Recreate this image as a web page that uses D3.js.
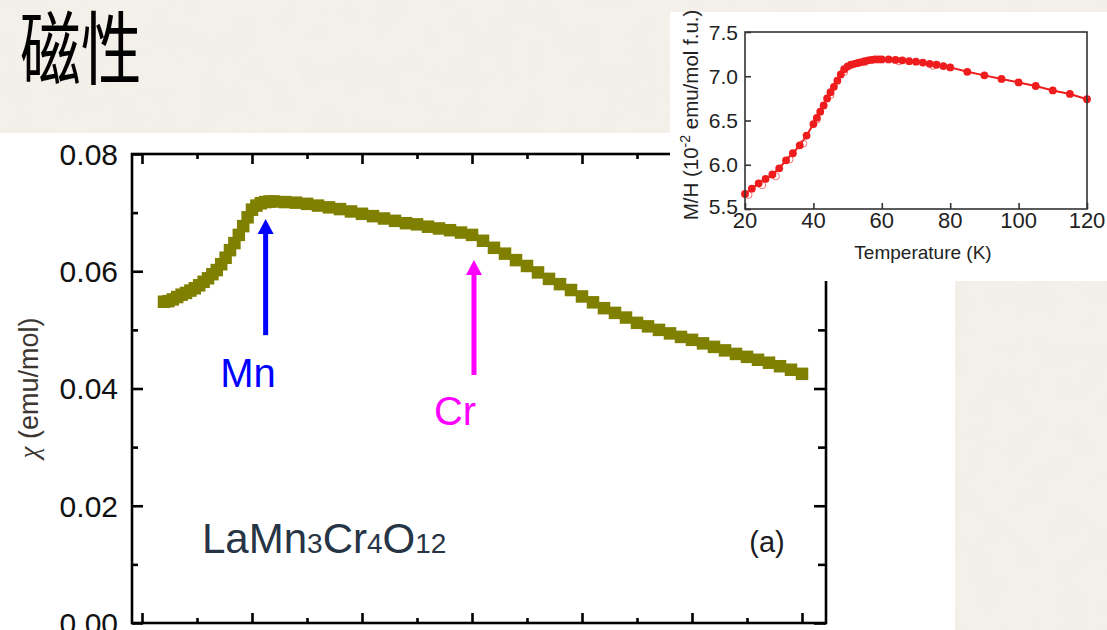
<!DOCTYPE html>
<html>
<head>
<meta charset="utf-8">
<script src="https://cdn.jsdelivr.net/npm/d3@7"></script>
<style>
  html, body { margin: 0; padding: 0; background: #f4f1ea; }
  svg { display: block; }
</style>
</head>
<body>
<svg id="chart" width="1107" height="630"></svg>
<script>
// ---- Main panel: susceptibility of LaMn3Cr4O12 vs temperature ----
const mainTemps = [10,12,14,16,18,20,22,24,26,28,30,32,34,36,38,40,42,44,46,48,50,52,54,56,58,60,
  65,70,75,80,85,90,95,100,105,110,115,120,125,130,135,140,145,150,155,160,165,170,175,180,
  185,190,195,200,205,210,215,220,225,230,235,240,245,250,255,260,265,270,275,280,285,290,295,300];
const mainChi = [0.0548,0.0549,0.0552,0.0556,0.0560,0.0563,0.0567,0.0571,0.0576,0.0582,0.0588,0.0595,
  0.0602,0.0612,0.0623,0.0636,0.0648,0.0662,0.0677,0.0692,0.0705,0.0712,0.0716,0.0718,0.0719,0.0719,
  0.0718,0.0717,0.0715,0.0712,0.0709,0.0706,0.0702,0.0698,0.0694,0.0690,0.0686,0.0682,0.0680,0.0676,
  0.0673,0.0670,0.0666,0.0662,0.0652,0.0640,0.0630,0.0619,0.0609,0.0598,0.0587,0.0578,0.0568,0.0557,
  0.0547,0.0537,0.0529,0.0521,0.0512,0.0506,0.0500,0.0494,0.0488,0.0483,0.0477,0.0471,0.0465,0.0459,
  0.0454,0.0449,0.0444,0.0438,0.0432,0.0425];
const mainXMajor = [0,50,100,150,200,250,300];
const mainXMinor = [25,75,125,175,225,275];
const mainYMajor = [0.00,0.02,0.04,0.06,0.08];
const mainYMinor = [0.01,0.03,0.05,0.07];

// transition markers: temperature, arrow tip / tail (chi), label
const arrowNames  = ["Mn", "Cr"];
const arrowTemps  = [56.2, 150.9];
const arrowTips   = [0.0689, 0.0619];
const arrowTails  = [0.0491, 0.0423];
const arrowColors = ["#0000ff", "#ff00ff"];

// ---- Inset: M/H vs temperature ----
const insetTemps = [20,22,24,26,28,30,32,34,36,38,40,41,42,43,44,45,46,47,48,49,50,51,52,53,54,55,56,57,58,59,60,
  62,64,66,68,70,72,74,76,78,80,85,90,95,100,105,110,115,120];
const insetMH = [5.67,5.73,5.79,5.84,5.89,5.96,6.05,6.13,6.22,6.33,6.46,6.53,6.60,6.67,6.75,6.82,6.88,6.95,7.02,7.08,
  7.11,7.13,7.14,7.15,7.16,7.17,7.18,7.185,7.19,7.19,7.19,7.19,7.185,7.18,7.17,7.165,7.155,7.14,7.13,7.115,7.10,
  7.05,7.01,6.97,6.93,6.89,6.84,6.80,6.74];
const insetOpenTemps = [21,25,29,33,37,41,45,49,55,65,75];
const insetOpenMH = [5.66,5.77,5.87,6.06,6.24,6.51,6.79,7.05,7.16,7.17,7.12];
const insetXTicks = [20,40,60,80,100,120];
const insetYTicks = [5.5,6.0,6.5,7.0,7.5];

const svg = d3.select("#chart");
const W = 1107, H = 630;
const SANS = "'Liberation Sans', Arial, sans-serif";

// paper texture for slide background
const defs = svg.append("defs");
const tex = defs.append("filter").attr("id", "paper").attr("x", 0).attr("y", 0).attr("width", "100%").attr("height", "100%");
tex.append("feTurbulence").attr("type", "fractalNoise").attr("baseFrequency", 0.035).attr("numOctaves", 3).attr("seed", 7).attr("result", "n");
tex.append("feColorMatrix").attr("in", "n").attr("type", "matrix")
  .attr("values", "0 0 0 0 0.55  0 0 0 0 0.50  0 0 0 0 0.42  0 0 0 0.09 0");

svg.append("rect").attr("width", W).attr("height", H).attr("fill", "#f5f2ec");
svg.append("rect").attr("width", W).attr("height", H).attr("filter", "url(#paper)");

// slide title
svg.append("text")
  .attr("transform", "translate(20,78) scale(0.76,1)")
  .attr("font-family", "'Noto Sans CJK SC', sans-serif")
  .attr("font-size", 80).attr("font-weight", 400).attr("fill", "#000")
  .text("磁性");

// ---------- main panel ----------
svg.append("rect").attr("x", 0).attr("y", 133).attr("width", 955).attr("height", H - 133).attr("fill", "#fff");

const frame = { left: 132, right: 826, top: 154, bottom: 623 };
const x = d3.scaleLinear().domain([0, 300]).range([142, 802]);
const y = d3.scaleLinear().domain([0, 0.08]).range([623, 154]);

const main = svg.append("g");

// data band of square markers
const S = 12.5;
main.append("g").selectAll("rect").data(mainTemps.map((t, i) => [t, mainChi[i]])).join("rect")
  .attr("x", d => x(d[0]) - S / 2).attr("y", d => y(d[1]) - S / 2)
  .attr("width", S).attr("height", S).attr("fill", "#808000");

// axes: ticks inward on all four sides
function axisLines(gen, tr, len) {
  return main.append("g").attr("transform", tr).call(gen.tickSize(len).tickFormat(""))
    .call(g => g.select(".domain").remove())
    .call(g => g.selectAll("line").attr("stroke", "#000").attr("stroke-width", 2.6));
}
axisLines(d3.axisTop(x).tickValues(mainXMajor), `translate(0,${frame.bottom})`, 10);
axisLines(d3.axisTop(x).tickValues(mainXMinor), `translate(0,${frame.bottom})`, 5);
axisLines(d3.axisBottom(x).tickValues(mainXMajor), `translate(0,${frame.top})`, 10);
axisLines(d3.axisBottom(x).tickValues(mainXMinor), `translate(0,${frame.top})`, 5);
axisLines(d3.axisRight(y).tickValues(mainYMajor), `translate(${frame.left},0)`, 11);
axisLines(d3.axisRight(y).tickValues(mainYMinor), `translate(${frame.left},0)`, 6);
axisLines(d3.axisLeft(y).tickValues(mainYMajor), `translate(${frame.right},0)`, 12);
axisLines(d3.axisLeft(y).tickValues(mainYMinor), `translate(${frame.right},0)`, 8);

main.append("rect")
  .attr("x", frame.left).attr("y", frame.top)
  .attr("width", frame.right - frame.left).attr("height", frame.bottom - frame.top)
  .attr("fill", "none").attr("stroke", "#000").attr("stroke-width", 2.6);

// y tick labels
main.append("g").selectAll("text").data(mainYMajor).join("text")
  .attr("x", 118).attr("y", d => y(d)).attr("dy", "0.36em")
  .attr("text-anchor", "end").attr("font-family", SANS).attr("font-size", 30).attr("fill", "#111")
  .text(d => d3.format(".2f")(d));

// y axis title
const yt = main.append("text")
  .attr("transform", `translate(38,${388}) rotate(-90)`)
  .attr("text-anchor", "middle").attr("font-family", SANS).attr("font-size", 27).attr("fill", "#3b3631");
yt.append("tspan").attr("font-family", "'Liberation Serif', serif").attr("font-style", "italic").text("χ");
yt.append("tspan").text(" (emu/mol)");

// transition arrows
arrowNames.forEach((name, i) => {
  const ax = x(arrowTemps[i]), tip = y(arrowTips[i]), tail = y(arrowTails[i]);
  const head = 15, hw = 8;
  main.append("line").attr("x1", ax).attr("x2", ax).attr("y1", tail).attr("y2", tip + head - 2)
    .attr("stroke", arrowColors[i]).attr("stroke-width", 5);
  main.append("path")
    .attr("d", `M${ax},${tip} L${ax - hw},${tip + head} L${ax + hw},${tip + head} Z`)
    .attr("fill", arrowColors[i]);
});
main.append("text").attr("x", 248).attr("y", 387).attr("text-anchor", "middle")
  .attr("font-family", SANS).attr("font-size", 40).attr("fill", arrowColors[0]).text(arrowNames[0]);
main.append("text").attr("x", 455).attr("y", 425).attr("text-anchor", "middle")
  .attr("font-family", SANS).attr("font-size", 40).attr("fill", arrowColors[1]).text(arrowNames[1]);

// compound name
const cmp = main.append("text").attr("x", 202).attr("y", 553)
  .attr("font-family", SANS).attr("font-size", 42).attr("fill", "#263445");
[["LaMn", 0], ["3", 1], ["Cr", 0], ["4", 1], ["O", 0], ["12", 1]].forEach(([s, sub]) => {
  cmp.append("tspan").attr("font-size", sub ? 28 : 42).text(s);
});

main.append("text").attr("x", 767).attr("y", 552).attr("text-anchor", "middle")
  .attr("font-family", SANS).attr("font-size", 29).attr("fill", "#1c1c24").text("(a)");

// right-hand slide strip
svg.append("rect").attr("x", 955).attr("y", 281).attr("width", W - 955).attr("height", H - 281).attr("fill", "#f5f2ec");
svg.append("rect").attr("x", 955).attr("y", 281).attr("width", W - 955).attr("height", H - 281).attr("filter", "url(#paper)");

// ---------- inset ----------
svg.append("rect").attr("x", 670).attr("y", 12).attr("width", W - 670).attr("height", 269).attr("fill", "#fff");

const ib = { left: 745, right: 1087, top: 32, bottom: 209 };
const ix = d3.scaleLinear().domain([20, 120]).range([ib.left, ib.right]);
const iy = d3.scaleLinear().domain([5.5, 7.5]).range([ib.bottom, ib.top]);
const inset = svg.append("g");

inset.append("g").attr("transform", `translate(0,${ib.bottom})`)
  .call(d3.axisTop(ix).tickValues(insetXTicks).tickSize(6).tickFormat(""))
  .call(g => g.select(".domain").remove())
  .call(g => g.selectAll("line").attr("stroke", "#333").attr("stroke-width", 1.6));
inset.append("g").attr("transform", `translate(${ib.left},0)`)
  .call(d3.axisRight(iy).tickValues(insetYTicks).tickSize(6).tickFormat(""))
  .call(g => g.select(".domain").remove())
  .call(g => g.selectAll("line").attr("stroke", "#333").attr("stroke-width", 1.6));

const red = "#ee1c1c";
inset.append("path")
  .datum(insetTemps.map((t, i) => [t, insetMH[i]]))
  .attr("d", d3.line().x(d => ix(d[0])).y(d => iy(d[1])))
  .attr("fill", "none").attr("stroke", red).attr("stroke-width", 2);
inset.append("g").selectAll("circle").data(insetOpenTemps.map((t, i) => [t, insetOpenMH[i]])).join("circle")
  .attr("cx", d => ix(d[0])).attr("cy", d => iy(d[1])).attr("r", 3.6)
  .attr("fill", "none").attr("stroke", "#f07070").attr("stroke-width", 1);
inset.append("g").selectAll("circle").data(insetTemps.map((t, i) => [t, insetMH[i]])).join("circle")
  .attr("cx", d => ix(d[0])).attr("cy", d => iy(d[1])).attr("r", 3.9)
  .attr("fill", red);

inset.append("rect").attr("x", ib.left).attr("y", ib.top)
  .attr("width", ib.right - ib.left).attr("height", ib.bottom - ib.top)
  .attr("fill", "none").attr("stroke", "#333").attr("stroke-width", 1.6);

inset.append("g").selectAll("text").data(insetXTicks).join("text")
  .attr("x", d => ix(d)).attr("y", 228).attr("text-anchor", "middle")
  .attr("font-family", SANS).attr("font-size", 22).attr("fill", "#222").text(d => d);
inset.append("g").selectAll("text").data(insetYTicks).join("text")
  .attr("x", 738).attr("y", d => iy(d)).attr("dy", d => d === 5.5 ? "0.22em" : "0.36em").attr("text-anchor", "end")
  .attr("font-family", SANS).attr("font-size", 21).attr("fill", "#222").text(d => d.toFixed(1));

inset.append("text").attr("x", 923).attr("y", 259).attr("text-anchor", "middle")
  .attr("font-family", SANS).attr("font-size", 19).attr("fill", "#222").text("Temperature (K)");

const iyt = inset.append("text").attr("transform", `translate(698,115) rotate(-90)`)
  .attr("text-anchor", "middle").attr("font-family", SANS).attr("font-size", 20.5).attr("fill", "#222");
iyt.append("tspan").text("M/H (10");
iyt.append("tspan").attr("font-size", 14).attr("dy", -8).text("-2");
iyt.append("tspan").attr("dy", 8).text(" emu/mol f.u.)");
</script>
</body>
</html>
